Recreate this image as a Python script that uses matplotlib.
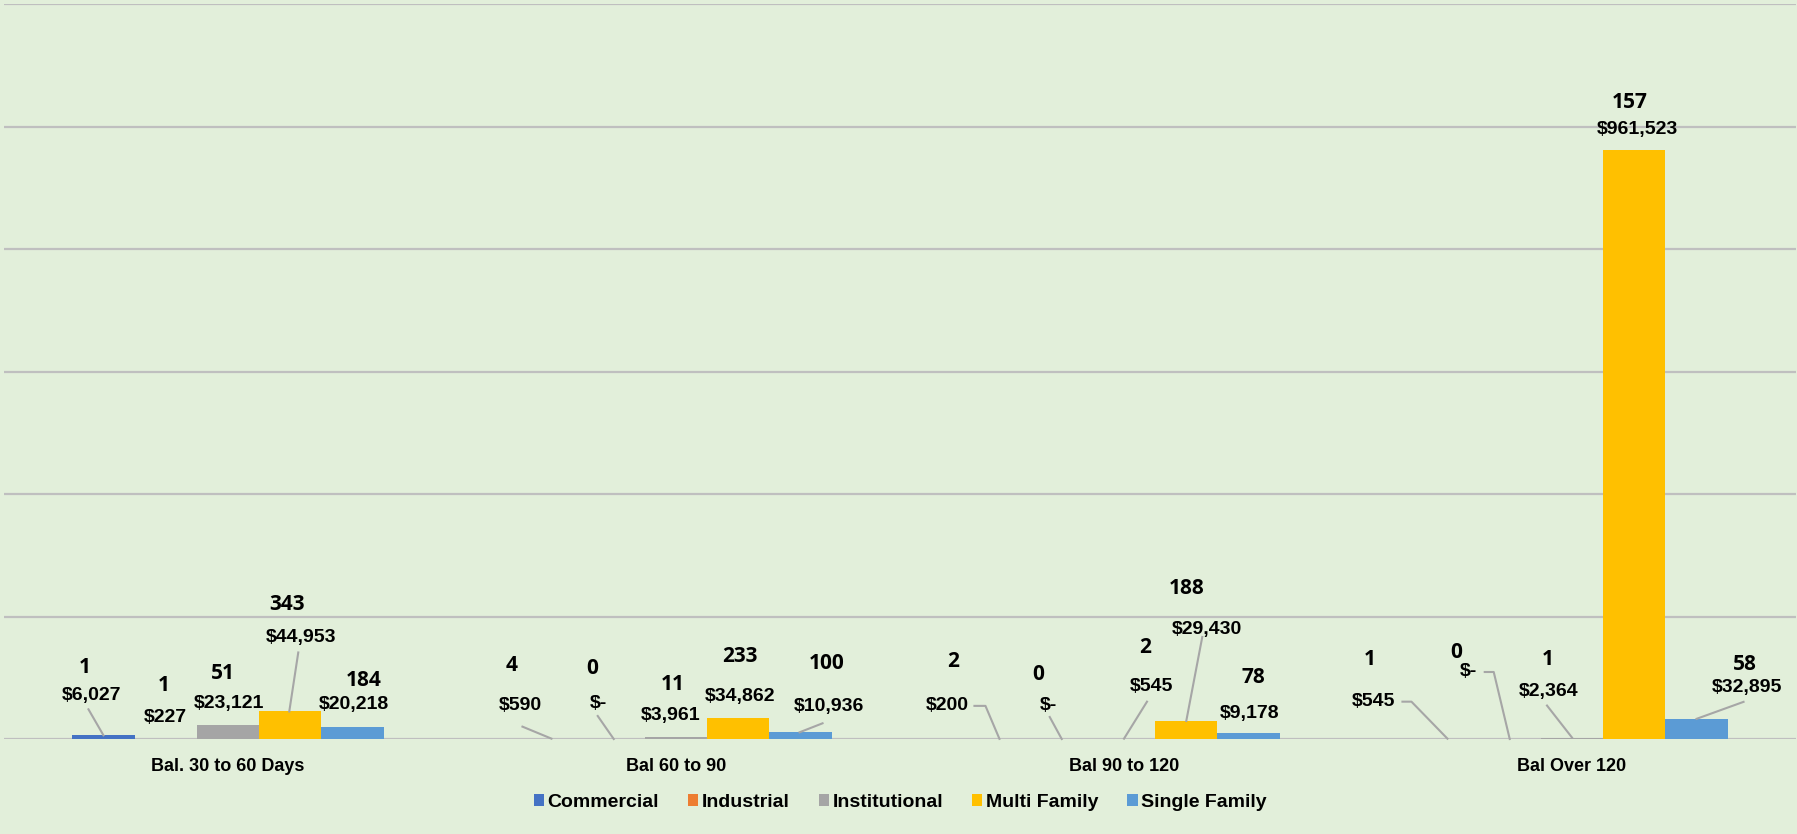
import matplotlib
matplotlib.use("Agg")
import matplotlib.pyplot as plt
from matplotlib.transforms import IdentityTransform
from matplotlib.patches import Patch

# aging buckets and customer classes
buckets = ["Bal. 30 to 60 Days", "Bal 60 to 90", "Bal 90 to 120", "Bal Over 120"]
classes = ["Commercial", "Industrial", "Institutional", "Multi Family", "Single Family"]
colors = ["#4472C4", "#ED7D31", "#A5A5A5", "#FFC000", "#5B9BD5"]

# dollar balance per class, one list per bucket
bal_30_60 = [6027, 227, 23121, 44953, 20218]
bal_60_90 = [590, 0, 3961, 34862, 10936]
bal_90_120 = [200, 0, 545, 29430, 9178]
bal_over_120 = [545, 0, 2364, 961523, 32895]

# number of accounts per class, one list per bucket
cnt_30_60 = [1, 1, 51, 343, 184]
cnt_60_90 = [4, 0, 11, 233, 100]
cnt_90_120 = [2, 0, 2, 188, 78]
cnt_over_120 = [1, 0, 1, 157, 58]

balances = [bal_30_60, bal_60_90, bal_90_120, bal_over_120]
counts = [cnt_30_60, cnt_60_90, cnt_90_120, cnt_over_120]

# label placement, pixels from the top-centre of each bar (x right, y down)
# (count label, dollar label, leader polyline or None)
label_pos = [
    [((-19, -68), (-12, -40), [(-15, -26), (0, 0)]),
     ((-2, -53), (0, -21), None),
     ((-5, -51), (1, -21), None),
     ((-3, -107), (11, -74), [(8, -59), (-1, 0)]),
     ((11, -46), (1, -22), None)],
    [((-40, -73), (-31, -33), [(-29, -12), (0, 0)]),
     ((-22, -71), (-15, -35), [(-16, -23), (0, 0)]),
     ((-3, -52), (-5, -21), None),
     ((2, -61), (2, -21), None),
     ((26, -69), (28, -26), [(22, -9), (-1, 0)])],
    [((-46, -77), (-52, -33), [(-25, -33), (-14, -33), (0, 0)]),
     ((-24, -64), (-13, -33), [(-12, -22), (0, 0)]),
     ((21, -91), (27, -52), [(23, -37), (0, 0)]),
     ((0, -132), (21, -91), [(16, -84), (0, 0)]),
     ((5, -56), (1, -20), None)],
    [((-78, -79), (-74, -37), [(-45, -37), (-36, -37), (0, 0)]),
     ((-54, -86), (-41, -67), [(-25, -67), (-16, -67), (0, 0)]),
     ((-24, -78), (-23, -46), [(-25, -32), (0, 0)]),
     ((-5, -48), (3, -21), None),
     ((48, -54), (50, -31), [(47, -17), (0, 0)])],
]

bg = "#E2EFDA"
grid_c = "#BFBFBF"
bold_font = ["Liberation Sans", "DejaVu Sans"]
count_font = ["Open Sans", "DejaVu Sans"]

fig = plt.figure(figsize=(17.97, 8.34), dpi=100, facecolor=bg)
ax = fig.add_axes([4 / 1797, 1 - 739 / 834, 1792 / 1797, 735 / 834])
ax.set_facecolor(bg)
ax.set_xlim(-0.5, 3.5)
ax.set_ylim(0, 1200000)
ax.set_yticks(range(0, 1200001, 200000))
ax.yaxis.grid(True, color=grid_c, linewidth=1.6)
ax.set_axisbelow(True)
for s in ax.spines.values():
    s.set_visible(False)
ax.tick_params(axis="both", length=0, labelleft=False)
ax.set_xticks(range(len(buckets)))
ax.set_xticklabels(buckets, fontsize=13, fontweight="bold", family=bold_font)
ax.tick_params(axis="x", pad=14)

width = 0.139
for j, name in enumerate(classes):
    xs = [i + (j - 2) * width for i in range(len(buckets))]
    vals = [balances[i][j] for i in range(len(buckets))]
    ax.bar(xs, vals, width=width, color=colors[j], label=name, zorder=2)

fig.canvas.draw()


def fmt_money(v):
    return "$-" if v == 0 else "${:,}".format(v)


for i in range(len(buckets)):
    for j in range(len(classes)):
        x = i + (j - 2) * width
        v = balances[i][j]
        ax_, ay_ = ax.transData.transform((x, v))
        cpos, dpos, leader = label_pos[i][j]
        fig.text(ax_ + cpos[0], ay_ - cpos[1], str(counts[i][j]),
                 transform=IdentityTransform(), ha="center", va="center",
                 fontsize=15, fontweight="bold", family=count_font)
        fig.text(ax_ + dpos[0], ay_ - dpos[1], fmt_money(v),
                 transform=IdentityTransform(), ha="center", va="center",
                 fontsize=14, fontweight="bold", family=bold_font)
        if leader:
            lx = [ax_ + p[0] for p in leader]
            ly = [ay_ - p[1] for p in leader]
            fig.add_artist(plt.Line2D(lx, ly, transform=IdentityTransform(),
                                      color="#A6A6A6", linewidth=1.5))

handles = [Patch(facecolor=c, label=n) for c, n in zip(colors, classes)]
fig.legend(handles=handles, loc="center", bbox_to_anchor=(0.501, 0.038), ncol=5,
           frameon=False, handlelength=0.52, handleheight=0.55, handletextpad=0.18,
           columnspacing=1.5, prop={"family": bold_font, "weight": "bold", "size": 14})

fig.savefig("out.png", dpi=100, facecolor=bg)
